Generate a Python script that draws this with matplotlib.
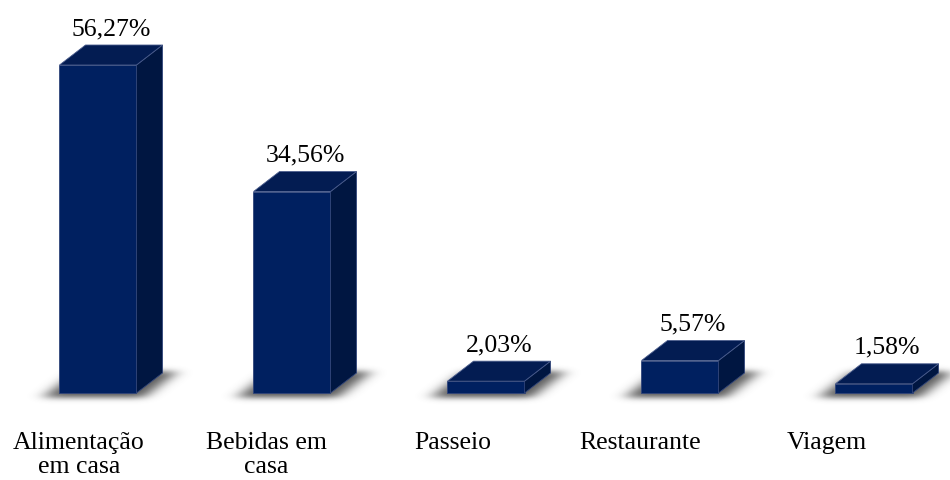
import matplotlib
matplotlib.use('Agg')
import matplotlib.pyplot as plt
from matplotlib.patches import Polygon
import numpy as np

# Dados
categorias = ['Alimentação\nem casa', 'Bebidas em\ncasa', 'Passeio', 'Restaurante', 'Viagem']
valores = [56.27, 34.56, 2.03, 5.57, 1.58]
rotulos = ['56,27%', '34,56%', '2,03%', '5,57%', '1,58%']

# Cores
cor_frente = '#002060'
cor_lado = '#001641'
cor_topo = '#031c52'

W, H = 950, 480
px_x = 194.0          # pixels por unidade em x
px_y = 5.829          # pixels por % em y
x_ini = 98.0          # pixel do centro da primeira barra
y_base = 393.0        # pixel da base

fig = plt.figure(figsize=(W / 100, H / 100), dpi=100)
ax = fig.add_axes([0, 0, 1, 1])
xlim = (-x_ini / px_x, (W - x_ini) / px_x)
ylim = (-(H - y_base) / px_y, y_base / px_y)
ax.set_xlim(*xlim)
ax.set_ylim(*ylim)
ax.axis('off')

largura = 77 / px_x
dx = 26 / px_x
dy = 20 / px_y
x = np.arange(len(valores))

# Sombra no chao: paralelogramo da base alongado e desfocado
cols, rows = np.meshgrid(np.arange(W), np.arange(H))
v = y_base - rows                 # altura acima da base (px)
u = cols - (26 / 20) * v          # coordenada "desinclinada"
mask = np.zeros((H, W))
for xi in x:
    p0 = x_ini + (xi - largura / 2) * px_x
    p1 = p0 + 77
    mask[(u >= p0 - 13) & (u <= p1 + 13) & (v >= -4) & (v <= 22)] = 1.0


def kernel(sig):
    k = np.arange(-int(4 * sig), int(4 * sig) + 1)
    g = np.exp(-k ** 2 / (2 * sig ** 2))
    return g / g.sum()


gx, gy = kernel(8.0), kernel(3.0)
mask = np.apply_along_axis(lambda r: np.convolve(r, gx, mode='same'), 1, mask)
mask = np.apply_along_axis(lambda c: np.convolve(c, gy, mode='same'), 0, mask)
sombra = np.zeros((H, W, 4))
sombra[..., :3] = 0.28
sombra[..., 3] = np.clip(mask, 0, 1) ** 1.2 * 0.9
ax.imshow(sombra, extent=(xlim[0], xlim[1], ylim[0], ylim[1]), aspect='auto',
          zorder=1, interpolation='bilinear')

# Barras 3D
barras = ax.bar(x, valores, largura, color=cor_frente, zorder=3,
                edgecolor='#31457a', linewidth=0.6)
for b, val in zip(barras, valores):
    x0 = b.get_x()
    x1 = x0 + b.get_width()
    lado = Polygon([(x1, 0), (x1 + dx, dy), (x1 + dx, val + dy), (x1, val)],
                   closed=True, facecolor=cor_lado, edgecolor='#31457a',
                   linewidth=0.6, zorder=3)
    topo = Polygon([(x0, val), (x0 + dx, val + dy), (x1 + dx, val + dy), (x1, val)],
                   closed=True, facecolor=cor_topo, edgecolor='#4a5c8c',
                   linewidth=0.6, zorder=3)
    ax.add_patch(lado)
    ax.add_patch(topo)

# Rotulos de valor
fonte = 'Liberation Serif'
for xi, val, r in zip(x, valores, rotulos):
    ax.text(xi + dx / 2, val + dy + 10 / px_y, r, ha='center', va='baseline',
            fontsize=18.5, family=fonte, color='black', zorder=4)

# Rotulos das categorias
for xi, c in zip(x, categorias):
    pos = (-19 + 187 * xi) / px_x
    ax.text(pos, -39 / px_y, c, ha='center', va='top', fontsize=18.5,
            family=fonte, color='black', linespacing=1.1, multialignment='center')

fig.savefig('out.png', dpi=100)
